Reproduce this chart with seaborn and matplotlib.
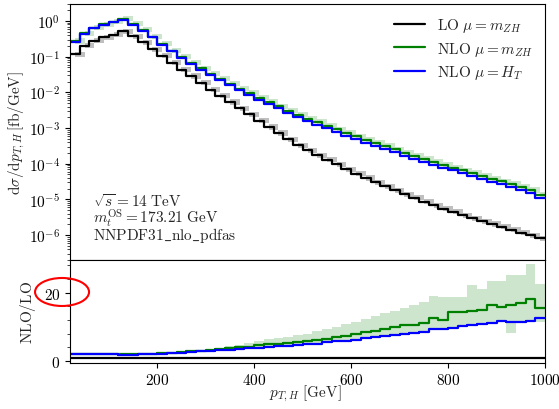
import matplotlib
matplotlib.use("Agg")
import matplotlib.pyplot as plt
from matplotlib.patches import Ellipse
from matplotlib.ticker import AutoMinorLocator, LogLocator, NullFormatter
import pandas as pd
import seaborn as sns

# bins in p_T,H [GeV], 20 GeV wide
edges = list(range(20, 1001, 20))

# top panel: dsigma/dpT [fb/GeV]
lo_mzh = [0.117, 0.204, 0.282, 0.347, 0.417, 0.513, 0.372, 0.251, 0.162, 0.105,
          6.76e-2, 4.37e-2, 2.88e-2, 1.86e-2, 1.20e-2, 7.94e-3, 5.37e-3, 3.55e-3, 2.40e-3, 1.58e-3,
          1.07e-3, 7.24e-4, 4.90e-4, 3.31e-4, 2.40e-4, 1.74e-4, 1.29e-4, 9.55e-5, 7.08e-5, 5.25e-5,
          3.98e-5, 3.02e-5, 2.34e-5, 1.82e-5, 1.41e-5, 1.10e-5, 8.71e-6, 6.92e-6, 5.50e-6, 4.47e-6,
          3.63e-6, 2.95e-6, 2.45e-6, 2.04e-6, 1.70e-6, 1.41e-6, 1.17e-6, 9.77e-7, 8.13e-7]
nlo_mzh = [0.27, 0.45, 0.65, 0.80, 0.94, 1.13, 0.82, 0.555, 0.36, 0.23,
           0.149, 9.9e-2, 6.75e-2, 4.7e-2, 3.35e-2, 2.4e-2, 1.74e-2, 1.27e-2, 9.5e-3, 7.1e-3,
           5.3e-3, 4.05e-3, 3.1e-3, 2.38e-3, 1.85e-3, 1.45e-3, 1.16e-3, 9.2e-4, 7.3e-4, 5.85e-4,
           4.65e-4, 3.8e-4, 3.1e-4, 2.52e-4, 2.05e-4, 1.67e-4, 1.38e-4, 1.12e-4, 9.4e-5, 7.8e-5,
           6.5e-5, 5.4e-5, 4.5e-5, 3.75e-5, 3.2e-5, 2.65e-5, 2.2e-5, 1.8e-5, 1.35e-5]
nlo_ht = [0.251, 0.432, 0.631, 0.776, 0.912, 1.10, 0.794, 0.537, 0.347, 0.219,
          0.141, 9.33e-2, 6.31e-2, 4.37e-2, 3.09e-2, 2.19e-2, 1.58e-2, 1.15e-2, 8.51e-3, 6.31e-3,
          4.68e-3, 3.55e-3, 2.69e-3, 2.04e-3, 1.58e-3, 1.23e-3, 9.77e-4, 7.76e-4, 6.17e-4, 4.90e-4,
          3.89e-4, 3.16e-4, 2.57e-4, 2.09e-4, 1.70e-4, 1.38e-4, 1.12e-4, 9.33e-5, 7.76e-5, 6.46e-5,
          5.37e-5, 4.47e-5, 3.72e-5, 3.09e-5, 2.63e-5, 2.19e-5, 1.82e-5, 1.48e-5, 1.12e-5]
# scale bands in the top panel, relative to the central value
lo_up, lo_dn = 1.18, 0.85
nlo_up, nlo_dn = 1.20, 0.86

# bottom panel: NLO/LO
ratio_mzh = [2.15, 2.1, 2.05, 2.0, 1.95, 1.95, 1.95, 2.0, 2.1, 2.25,
             2.4, 2.6, 2.8, 3.0, 3.2, 3.45, 3.7, 3.95, 4.2, 4.6,
             4.85, 5.1, 5.3, 5.5, 5.8, 6.1, 6.4, 6.9, 7.3, 7.8,
             8.6, 8.8, 9.3, 9.9, 10.4, 10.6, 11.0, 12.6, 12.1, 14.3,
             14.4, 14.6, 15.0, 16.3, 15.8, 16.3, 16.8, 18.0, 15.5]
ratio_ht = [2.1, 2.05, 2.0, 1.95, 1.9, 1.85, 1.85, 1.9, 2.0, 2.1,
            2.25, 2.4, 2.6, 2.8, 2.95, 3.1, 3.3, 3.5, 3.7, 3.9,
            4.1, 4.3, 4.45, 4.6, 4.85, 5.1, 5.4, 5.7, 5.95, 6.2,
            6.6, 6.9, 7.2, 7.5, 7.8, 8.2, 8.6, 9.2, 9.4, 9.7,
            10.2, 10.4, 10.7, 11.0, 11.6, 11.5, 11.3, 11.6, 12.7]
band_hi = [2.3, 2.25, 2.2, 2.15, 2.1, 2.1, 2.1, 2.15, 2.25, 2.4,
           2.6, 2.8, 3.05, 3.3, 3.6, 3.9, 4.3, 4.8, 5.3, 5.9,
           6.3, 6.7, 7.1, 7.5, 8.0, 8.8, 9.3, 10.0, 10.8, 11.5,
           12.4, 13.0, 13.9, 14.6, 15.5, 16.3, 17.2, 18.9, 18.8, 18.8,
           18.8, 22.2, 20.9, 23.4, 23.4, 25.1, 25.1, 28.3, 22.6]
band_lo = [2.05, 2.0, 1.95, 1.9, 1.85, 1.8, 1.8, 1.85, 1.95, 2.05,
           2.2, 2.35, 2.55, 2.7, 2.85, 3.05, 3.25, 3.45, 3.65, 3.85,
           4.05, 4.25, 4.45, 4.65, 4.9, 5.2, 5.5, 5.8, 6.1, 6.4,
           6.8, 7.1, 7.4, 7.8, 8.1, 8.5, 8.9, 9.3, 9.6, 9.9,
           10.3, 10.5, 10.9, 11.3, 11.7, 8.2, 11.8, 12.0, 11.4]

labels = [r"$\mathrm{LO}\ \mu = m_{ZH}$", r"$\mathrm{NLO}\ \mu = m_{ZH}$", r"$\mathrm{NLO}\ \mu = H_T$"]
colors = ["black", "green", "blue"]

sns.set_theme(style="ticks")
plt.rcParams["font.family"] = "serif"
plt.rcParams["font.serif"] = ["cmr10"]
plt.rcParams["mathtext.fontset"] = "cm"
plt.rcParams["axes.formatter.use_mathtext"] = True
plt.rcParams["axes.edgecolor"] = "black"
plt.rcParams["axes.linewidth"] = 0.8


def steps(vals):
    return list(vals) + [vals[-1]]


fig = plt.figure(figsize=(5.59, 4.10), dpi=100)
ax1 = fig.add_axes([0.1252, 0.3634, 0.8498, 0.6244])
ax2 = fig.add_axes([0.1252, 0.1134, 0.8498, 0.25], sharex=ax1)

# scale bands (top panel drawn half a bin to the right, like the original)
centres = [e + 10 for e in edges]
ax1.fill_between(centres, steps([v * lo_dn for v in lo_mzh]), steps([v * lo_up for v in lo_mzh]),
                 step="post", color="black", alpha=0.25, lw=0)
ax1.fill_between(centres, steps([v * nlo_dn for v in nlo_mzh]), steps([v * nlo_up for v in nlo_mzh]),
                 step="post", color="green", alpha=0.2, lw=0)

top = pd.DataFrame({
    "pt": edges * 3,
    "val": steps(lo_mzh) + steps(nlo_mzh) + steps(nlo_ht),
    "curve": [labels[0]] * 50 + [labels[1]] * 50 + [labels[2]] * 50,
})
sns.lineplot(data=top, x="pt", y="val", hue="curve", hue_order=labels, palette=colors,
             drawstyle="steps-post", lw=1.6, estimator=None, legend=False, ax=ax1)

ax1.set_yscale("log")
ax1.set_ylim(2.0e-7, 3.0)
ax1.yaxis.set_major_locator(LogLocator(base=10, numticks=20))
ax1.yaxis.set_minor_locator(LogLocator(base=10, subs=[i / 10 for i in range(2, 10)], numticks=20))
ax1.yaxis.set_minor_formatter(NullFormatter())
ax1.tick_params(axis="x", which="both", bottom=False, labelbottom=False)
ax1.set_xlabel("")
ax1.set_ylabel(r"$\mathrm{d}\sigma/\mathrm{d}p_{T,H}\,[\mathrm{fb/GeV}]$", fontsize=11)
ax1.yaxis.set_label_coords(-0.09, 0.5)

ax1.legend(ax1.get_lines()[:3], labels, loc="upper right", frameon=False, fontsize=11,
           handlelength=2.0, borderaxespad=0.4, labelspacing=0.35)

ax1.text(0.048, 0.232, r"$\sqrt{s} = 14\ \mathrm{TeV}$", transform=ax1.transAxes, fontsize=11, va="center")
ax1.text(0.048, 0.166, r"$m_t^{\mathrm{OS}} = 173.21\ \mathrm{GeV}$", transform=ax1.transAxes, fontsize=11, va="center")
ax1.text(0.048, 0.100, r"$\mathrm{NNPDF31\_nlo\_pdfas}$", transform=ax1.transAxes, fontsize=11, va="center")

# ratio panel
ax2.fill_between(edges, steps([lo_dn] * 49), steps([lo_up] * 49), step="post", color="black", alpha=0.25, lw=0)
ax2.fill_between(edges, steps(band_lo), steps(band_hi), step="post", color="green", alpha=0.2, lw=0)
bottom = pd.DataFrame({
    "pt": edges * 3,
    "val": steps([1.0] * 49) + steps(ratio_mzh) + steps(ratio_ht),
    "curve": [labels[0]] * 50 + [labels[1]] * 50 + [labels[2]] * 50,
})
sns.lineplot(data=bottom, x="pt", y="val", hue="curve", hue_order=labels, palette=colors,
             drawstyle="steps-post", lw=1.6, estimator=None, legend=False, ax=ax2)

ax2.set_xlim(20, 1000)
ax2.set_ylim(-0.45, 29.5)
ax2.set_yticks([0, 20])
ax2.yaxis.set_minor_locator(AutoMinorLocator(5))
ax2.set_xticks([200, 400, 600, 800, 1000])
ax2.set_xlabel(r"$p_{T,H}\ [\mathrm{GeV}]$", fontsize=11)
ax2.set_ylabel(r"$\mathrm{NLO/LO}$", fontsize=11)
ax2.yaxis.set_label_coords(-0.067, 0.5)
ax2.xaxis.set_label_coords(0.495, -0.2)

for ax in (ax1, ax2):
    ax.tick_params(which="major", direction="out", length=3.5, width=0.8, labelsize=11, colors="black")
    ax.tick_params(which="minor", direction="out", length=2, width=0.6)
    for s in ax.spines.values():
        s.set_visible(True)
        s.set_color("black")

# red ellipse round the "20" tick label
fig.patches.append(Ellipse((0.111, 0.2854), 0.0966, 0.0683, transform=fig.transFigure,
                           fill=False, edgecolor="red", lw=1.5))

fig.savefig("out.png", dpi=100)
